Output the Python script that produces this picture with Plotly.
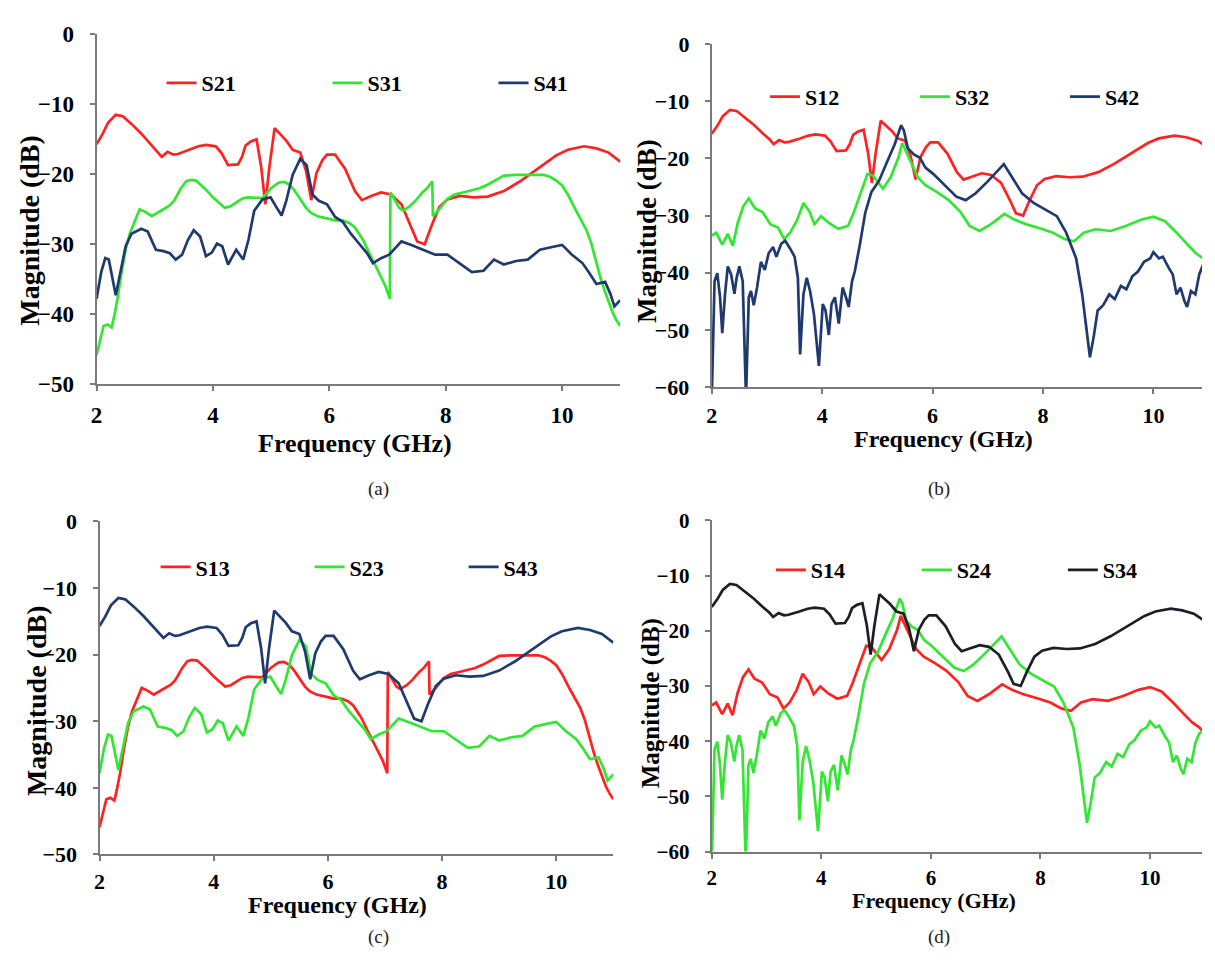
import plotly.graph_objects as go

# ---- measured transmission curves (frequency in GHz, magnitude in dB) ----
# Reciprocal pairs share one trace: S21=S12=S43=S34, S31=S13, S41=S23, S32=S14, S42=S24.

f_s21 = [2.0, 2.1, 2.2, 2.33, 2.45, 2.6, 2.77, 2.92, 3.05, 3.12, 3.22, 3.32, 3.4, 3.6, 3.75,
         3.88, 4.05, 4.15, 4.26, 4.43, 4.5, 4.56, 4.65, 4.75, 4.83, 4.9, 4.97, 5.06, 5.15, 5.26,
         5.37, 5.5, 5.6, 5.69, 5.78, 5.88, 5.96, 6.1, 6.27, 6.44, 6.56, 6.72, 6.89, 7.06, 7.24,
         7.41, 7.51, 7.64, 7.75, 7.89, 8.03, 8.24, 8.48, 8.72, 9.0, 9.28, 9.55, 9.9, 10.1, 10.38,
         10.59, 10.8, 11.0]
s21_db = [-15.7, -14.3, -12.6, -11.5, -11.7, -12.8, -14.2, -15.6, -16.7, -17.5, -16.8, -17.2, -17.1, -16.5, -16.0,
          -15.8, -16.0, -17.0, -18.7, -18.6, -17.5, -15.9, -15.3, -15.0, -19.0, -24.3, -19.0, -13.4, -14.2, -15.2,
          -16.5, -16.9, -19.5, -23.7, -19.8, -18.0, -17.2, -17.2, -19.2, -22.4, -23.7, -23.1, -22.6, -22.9, -24.3,
          -27.5, -29.6, -30.0, -27.5, -24.7, -23.6, -23.1, -23.3, -23.2, -22.4, -21.0, -19.4, -17.3, -16.5, -16.0,
          -16.3, -16.9, -18.2]

f_s31 = [2.0, 2.07, 2.12, 2.19, 2.26, 2.31, 2.36, 2.43, 2.5, 2.57, 2.64, 2.74, 2.84, 2.95, 3.05,
         3.15, 3.25, 3.33, 3.45, 3.54, 3.62, 3.71, 3.8, 3.88, 4.0, 4.2, 4.3, 4.5, 4.6, 4.85,
         5.0, 5.13, 5.23, 5.32, 5.4, 5.5, 5.6, 5.68, 5.8, 5.96, 6.1, 6.23, 6.35, 6.44, 6.58,
         6.7, 6.79, 6.9, 6.96, 7.04, 7.05, 7.1, 7.2, 7.27, 7.38, 7.48, 7.6, 7.68, 7.77, 7.78,
         7.89, 8.03, 8.15, 8.3, 8.45, 8.58, 8.72, 8.86, 9.0, 9.2, 9.4, 9.69, 9.8, 9.9, 10.0,
         10.1, 10.24, 10.33, 10.42, 10.5, 10.59, 10.66, 10.73, 10.8, 10.87, 10.93, 11.0]
s31_db = [-45.9, -43.5, -41.7, -41.5, -41.9, -40.0, -37.8, -34.0, -30.8, -28.5, -27.1, -25.0, -25.4, -26.0, -25.5,
          -25.0, -24.5, -23.8, -22.0, -21.0, -20.8, -20.9, -21.6, -22.2, -23.3, -24.8, -24.6, -23.5, -23.3, -23.4,
          -22.0, -21.2, -21.1, -21.5, -22.3, -23.5, -24.8, -25.5, -26.0, -26.3, -26.6, -26.6, -27.0, -27.6, -29.4,
          -31.5, -33.1, -35.0, -35.9, -37.8, -22.6, -23.3, -24.8, -25.2, -24.6, -23.8, -22.6, -22.0, -21.0, -26.0,
          -25.0, -23.5, -22.9, -22.6, -22.3, -22.0, -21.5, -20.8, -20.2, -20.1, -20.1, -20.1, -20.4, -20.9, -21.6,
          -22.9, -25.2, -26.6, -28.0, -29.8, -32.7, -34.8, -36.6, -38.2, -39.8, -40.8, -41.7]

f_s41 = [2.0, 2.08, 2.15, 2.21, 2.33, 2.39, 2.5, 2.6, 2.77, 2.88, 3.02, 3.15, 3.26, 3.36, 3.47,
         3.57, 3.67, 3.78, 3.88, 3.98, 4.07, 4.16, 4.26, 4.4, 4.52, 4.61, 4.71, 4.85, 4.99, 5.09,
         5.18, 5.26, 5.37, 5.5, 5.61, 5.71, 5.82, 5.96, 6.1, 6.23, 6.37, 6.51, 6.65, 6.75, 6.89,
         7.03, 7.24, 7.41, 7.62, 7.82, 8.03, 8.24, 8.45, 8.65, 8.83, 9.0, 9.21, 9.41, 9.62, 9.83,
         10.0, 10.17, 10.35, 10.46, 10.59, 10.74, 10.83, 10.9, 11.0]
s41_db = [-37.8, -34.0, -32.0, -32.2, -37.3, -35.0, -30.3, -28.5, -27.8, -28.2, -30.8, -31.0, -31.3, -32.2, -31.5,
          -29.4, -28.0, -28.9, -31.7, -31.2, -29.9, -30.3, -32.9, -30.8, -32.2, -29.4, -25.2, -23.6, -23.3, -24.7,
          -25.9, -23.8, -20.1, -17.8, -18.7, -22.9, -23.8, -24.3, -26.1, -26.8, -28.5, -29.9, -31.3, -32.7, -32.0,
          -31.5, -29.6, -30.1, -30.8, -31.5, -31.5, -32.7, -34.0, -33.8, -32.2, -32.9, -32.4, -32.2, -30.8, -30.4,
          -30.1, -31.5, -32.7, -34.0, -35.7, -35.4, -37.1, -38.9, -38.0]

f_s32 = [2.0, 2.08, 2.19, 2.29, 2.38, 2.47, 2.57, 2.67, 2.78, 2.92, 3.06, 3.2, 3.31, 3.42, 3.55,
         3.66, 3.77, 3.86, 3.98, 4.12, 4.29, 4.47, 4.57, 4.71, 4.82, 4.92, 5.1, 5.24, 5.38, 5.45,
         5.52, 5.62, 5.73, 5.87, 6.08, 6.29, 6.5, 6.67, 6.85, 7.06, 7.3, 7.48, 7.69, 7.97, 8.18,
         8.39, 8.56, 8.74, 8.95, 9.23, 9.51, 9.79, 10.0, 10.21, 10.42, 10.63, 10.77, 10.9, 11.0]
s32_db = [-33.5, -33.0, -35.1, -33.2, -35.3, -31.3, -28.4, -27.0, -28.7, -29.4, -31.5, -32.1, -34.1, -33.0, -30.7,
          -27.8, -29.3, -31.5, -30.1, -31.3, -32.3, -31.8, -29.5, -25.6, -22.7, -23.0, -25.3, -23.3, -19.9, -17.3,
          -18.8, -21.0, -23.3, -24.7, -25.9, -27.3, -29.3, -31.8, -32.7, -31.5, -29.7, -30.7, -31.5, -32.3, -33.0,
          -34.1, -34.5, -33.0, -32.4, -32.7, -31.8, -30.7, -30.2, -31.0, -33.0, -35.2, -36.6, -37.5, -38.6]

f_s42 = [2.0, 2.05, 2.1, 2.15, 2.19, 2.24, 2.29, 2.35, 2.41, 2.45, 2.5, 2.56, 2.62, 2.67, 2.71,
         2.76, 2.82, 2.89, 2.96, 3.03, 3.11, 3.17, 3.26, 3.33, 3.42, 3.5, 3.56, 3.6, 3.66, 3.72,
         3.78, 3.85, 3.94, 4.01, 4.06, 4.12, 4.17, 4.23, 4.3, 4.37, 4.43, 4.48, 4.54, 4.59, 4.68,
         4.78, 4.89, 5.03, 5.17, 5.31, 5.43, 5.48, 5.55, 5.66, 5.77, 5.87, 6.01, 6.22, 6.43, 6.6,
         6.78, 6.99, 7.2, 7.29, 7.44, 7.62, 7.83, 8.04, 8.25, 8.42, 8.6, 8.71, 8.79, 8.85, 8.92,
         8.99, 9.09, 9.2, 9.3, 9.41, 9.51, 9.62, 9.72, 9.83, 9.94, 10.0, 10.1, 10.17, 10.28, 10.35,
         10.42, 10.49, 10.56, 10.61, 10.68, 10.76, 10.83, 10.9, 11.0]
s42_db = [-62.0, -41.5, -40.1, -44.3, -50.6, -43.7, -38.9, -40.3, -43.7, -40.9, -38.9, -41.5, -62.0, -44.3, -43.2,
          -45.7, -42.6, -38.1, -39.5, -36.6, -35.5, -37.2, -34.9, -34.4, -35.8, -37.2, -40.9, -54.3, -43.8, -40.9,
          -43.2, -47.2, -56.3, -45.5, -46.6, -50.9, -45.5, -44.3, -48.9, -42.6, -44.3, -46.0, -41.5, -39.8, -35.2,
          -29.5, -25.9, -23.9, -20.7, -17.6, -14.2, -15.1, -18.2, -19.3, -19.9, -21.6, -22.7, -24.7, -26.7, -27.3,
          -26.1, -24.1, -21.9, -21.0, -23.3, -26.1, -27.8, -29.0, -30.1, -33.0, -37.5, -43.8, -50.0, -54.8, -51.1,
          -46.6, -45.7, -43.8, -44.6, -42.3, -42.9, -40.6, -39.8, -38.1, -37.5, -36.4, -37.5, -37.2, -39.2, -40.3,
          -43.8, -42.6, -44.9, -46.0, -43.2, -43.8, -40.3, -38.6, -38.0]

x_ticks = [2, 4, 6, 8, 10]

RED, GREEN, NAVY, BLACK = "#FF2222", "#33E633", "#1F3A6E", "#1E1E28"
SERIF = "Liberation Serif, Times New Roman, Tinos, serif"
W, H = 1215, 960


def px(x):
    return x / W


def py(y):
    return 1 - y / H


# panel boxes in pixels: left, right, top, bottom, y-min, x-max, tick font size, x-label standoff
panels = {
    "a": dict(l=92, r=624, t=23, b=382, ymin=-50, xmax=11.0, tick=23, xs=4),
    "b": dict(l=717, r=1215, t=33, b=385, ymin=-60, xmax=10.88, tick=22, xs=3),
    "c": dict(l=95, r=617, t=523, b=865, ymin=-50, xmax=11.0, tick=22, xs=1),
    "d": dict(l=717, r=1215, t=522, b=862, ymin=-60, xmax=10.95, tick=21, xs=1),
}

series = {
    "a": [("S21", f_s21, s21_db, RED), ("S31", f_s31, s31_db, GREEN), ("S41", f_s41, s41_db, NAVY)],
    "b": [("S12", f_s21, s21_db, RED), ("S32", f_s32, s32_db, GREEN), ("S42", f_s42, s42_db, NAVY)],
    "c": [("S13", f_s31, s31_db, RED), ("S23", f_s41, s41_db, GREEN), ("S43", f_s21, s21_db, NAVY)],
    "d": [("S14", f_s32, s32_db, RED), ("S24", f_s42, s42_db, GREEN), ("S34", f_s21, s21_db, BLACK)],
}

# legend anchor (pixels) and spacing per panel
legend_pos = {
    "a": dict(x=158, y=73, step=121),
    "b": dict(x=771, y=87, step=105),
    "c": dict(x=152, y=570, step=109),
    "d": dict(x=777, y=573, step=101),
}

fig = go.Figure()
layout = dict(
    width=W, height=H, margin=dict(l=0, r=0, t=0, b=0),
    paper_bgcolor="white", plot_bgcolor="white", showlegend=True,
)
annotations = []

for i, key in enumerate(["a", "b", "c", "d"]):
    n = "" if i == 0 else str(i + 1)
    p = panels[key]
    leg = "legend" + n
    for name, fx, fy, col in series[key]:
        fig.add_trace(go.Scatter(
            x=fx, y=fy, mode="lines", name=name,
            line=dict(color=col, width=2.7),
            xaxis="x" + n, yaxis="y" + n, legend=leg,
        ))
    axis_common = dict(
        showline=True, linecolor="#7A7A7A", linewidth=2, mirror=False,
        showgrid=False, zeroline=False,
        ticks="outside", ticklen=5, tickwidth=1.5, tickcolor="#7A7A7A",
        tickfont=dict(family=SERIF, size=p["tick"], color="black", weight="bold"),
    )
    layout["xaxis" + n] = dict(
        axis_common, domain=[px(p["l"]), px(p["r"])], range=[2, p["xmax"]],
        tickvals=x_ticks, anchor="y" + n, ticklabelstandoff=p["xs"],
    )
    layout["yaxis" + n] = dict(
        axis_common, domain=[py(p["b"]), py(p["t"])], range=[p["ymin"], 0],
        dtick=10, anchor="x" + n, ticklabelstandoff=11,
    )
    lp = legend_pos[key]
    layout[leg] = dict(
        orientation="h", x=px(lp["x"]), y=py(lp["y"]), xanchor="left", yanchor="middle",
        bgcolor="rgba(0,0,0,0)", borderwidth=0, entrywidth=lp["step"], entrywidthmode="pixels",
        font=dict(family=SERIF, size=22, color="black", weight="bold"),
        itemwidth=30, tracegroupgap=0,
    )

# axis titles and panel captions
titles = [
    # (text, x, y, size, angle)
    ("Frequency (GHz)", 355, 443, 26, 0),
    ("Frequency (GHz)", 952, 438, 24, 0),
    ("Frequency (GHz)", 337, 917, 24, 0),
    ("Frequency (GHz)", 943, 912, 22, 0),
    ("Magnitude (dB)", 24, 224, 28, -90),
    ("Magnitude (dB)", 651, 225, 27, -90),
    ("Magnitude (dB)", 31, 707, 28, -90),
    ("Magnitude (dB)", 655, 710, 25, -90),
]
for text, x, y, size, ang in titles:
    annotations.append(dict(
        text=text, x=px(x), y=py(y), xref="paper", yref="paper", showarrow=False,
        xanchor="center", yanchor="middle", textangle=ang,
        font=dict(family=SERIF, size=size, color="black", weight="bold"),
    ))

captions = [("(a)", 378, 490), ("(b)", 948, 490), ("(c)", 378, 950), ("(d)", 948, 950)]
for text, x, y in captions:
    annotations.append(dict(
        text=text, x=px(x), y=py(y), xref="paper", yref="paper", showarrow=False,
        xanchor="center", yanchor="middle",
        font=dict(family=SERIF, size=19, color="#222222"),
    ))

layout["annotations"] = annotations
fig.update_layout(**layout)
fig.write_html("out.html")
